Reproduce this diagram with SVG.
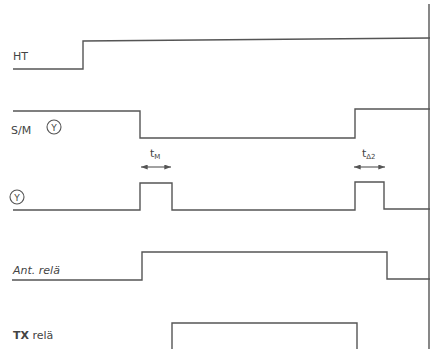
<svg xmlns="http://www.w3.org/2000/svg" width="437" height="349" viewBox="0 0 437 349">
<style>
.sig{fill:none;stroke:#555;stroke-width:1.4}
.lbl{font-family:"DejaVu Sans",sans-serif;font-size:11px;fill:#444}
.sub{font-family:"DejaVu Sans",sans-serif;font-size:7px;fill:#444}
.cy{font-family:"DejaVu Sans",sans-serif;font-size:9px;fill:#444;text-anchor:middle}
.circ{fill:none;stroke:#555;stroke-width:1.1}
.arr{stroke:#555;stroke-width:1.1;marker-start:url(#ah);marker-end:url(#ah)}
</style>
<defs>
<marker id="ah" viewBox="0 0 8 6" refX="8" refY="3" markerWidth="7" markerHeight="5" orient="auto-start-reverse" markerUnits="userSpaceOnUse">
<path d="M0,0 L8,3 L0,6 Z" fill="#555"/>
</marker>
</defs>
<rect width="437" height="349" fill="#fff"/>
<g id="connectors">
<line class="sig" x1="429" y1="4" x2="429" y2="349"/>
</g>
<g id="HT">
<text class="lbl" x="13" y="60">HT</text>
<polyline class="sig" points="13,69 83,69 83,41 430,38"/>
</g>
<g id="SM">
<text class="lbl" x="11" y="134">S/M</text>
<circle class="circ" cx="54" cy="127" r="7"/>
<text class="cy" x="54" y="130.5">Y</text>
<polyline class="sig" points="13,111 140,111 140,138 355,138 355,109 430,109"/>
</g>
<g id="Y">
<circle class="circ" cx="17" cy="197" r="7"/>
<text class="cy" x="17" y="200.5">Y</text>
<polyline class="sig" points="13,210 140,210 140,183 172,183 172,210 355,210 355,182 384,182 384,209 430,209"/>
<text class="lbl" x="150" y="157" font-size="8">t<tspan class="sub" dy="2" font-size="6">M</tspan></text>
<line class="arr" x1="141" y1="167" x2="171" y2="167"/>
<text class="lbl" x="362" y="157" font-size="8">t<tspan class="sub" dy="2" font-size="6">Δ2</tspan></text>
<line class="arr" x1="354" y1="167" x2="385" y2="167"/>
</g>
<g id="Ant">
<text class="lbl" x="13" y="274" font-style="italic">Ant. relä</text>
<polyline class="sig" points="12,280 142,280 142,252 387,252 387,279 430,279"/>
</g>
<g id="TX">
<text class="lbl" x="13" y="339"><tspan font-weight="bold">TX</tspan> relä</text>
<polyline class="sig" points="172,349 172,323 357,323 357,349"/>
</g>
</svg>
